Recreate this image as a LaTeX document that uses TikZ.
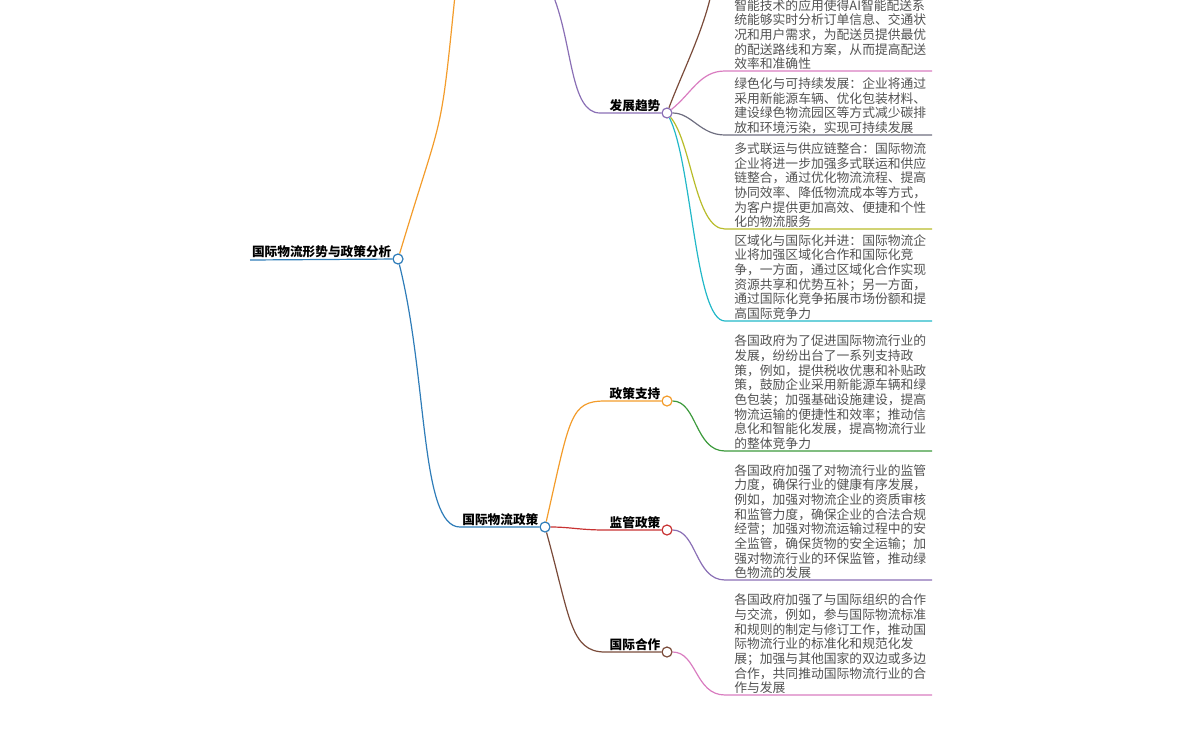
\documentclass[tikz,border=0pt]{standalone}
\usepackage{fontspec}
\setmainfont{Noto Sans CJK SC}
\begin{document}
\begin{tikzpicture}[x=0.75pt,y=-0.75pt,
  dot/.style={circle,draw=#1,fill=white,line width=0.9pt,minimum size=7.5pt,inner sep=0pt},
  ttl/.style={font=\fontsize{9.5}{11}\selectfont\bfseries,anchor=south east,inner sep=1pt},
  leaf/.style={font=\fontsize{9.6}{11}\selectfont,text=black!68,anchor=south west,inner sep=0pt,align=left},
  ln/.style={draw=#1,line width=0.9pt}]
\useasboundingbox (0,0) rectangle (1181,732);
\definecolor{cblue}{HTML}{2E7CB8}
\definecolor{corange}{HTML}{F39C2B}
\definecolor{cpurple}{HTML}{8A6FB5}
\definecolor{cbrown}{HTML}{7A4B3A}
\definecolor{cpink}{HTML}{D97CC0}
\definecolor{cgray}{HTML}{6E6E80}
\definecolor{colive}{HTML}{B8BC2A}
\definecolor{ccyan}{HTML}{22B8C8}
\definecolor{cgreen}{HTML}{3C9A3C}
\definecolor{cred}{HTML}{C83232}
% nodes
\node[dot=cblue] (R) at (398,259) {};
\coordinate (R0) at (250,260);
\node[ttl] at (393,259) {国际物流形势与政策分析};
\node[dot=cpurple] (T) at (667,113) {};
\coordinate (Ts) at (600,113);
\node[ttl] at (662,113) {发展趋势};
\coordinate (Tup) at (553,-5);
\coordinate (Rup) at (455,-5);
\node[dot=cblue] (P) at (545,527) {};
\coordinate (Ps) at (460,527);
\node[ttl] at (540,527) {国际物流政策};
\node[dot=corange] (A) at (667,401) {};
\coordinate (As) at (605,401);
\node[ttl] at (662,401) {政策支持};
\node[dot=cred] (B) at (667,530) {};
\coordinate (Bs) at (605,530);
\node[ttl] at (662,530) {监管政策};
\node[dot=cbrown] (C) at (667,652) {};
\coordinate (Cs) at (605,652);
\node[ttl] at (662,652) {国际合作};
% leaf coordinates
\foreach \n/\y in {L1/71,L2/135,L3/229,L4/321,M1/451,M2/580,M3/695}{
  \coordinate (\n s) at (725,\y); \coordinate (\n e) at (932,\y);}
\coordinate (L0s) at (712,-10);
% connectors
\draw[ln=cblue] (R0) -- (R);
\draw[ln=corange] (R) .. controls +(45,-150) and +(-15,150) .. (Rup);
\draw[ln=cblue] (R) .. controls +(30,120) and +(-40,0) .. (Ps) -- (P);
\draw[ln=cpurple] (Tup) .. controls +(20,50) and +(-30,0) .. (Ts) -- (T);
\draw[ln=cbrown] (T) .. controls +(15,-40) and +(-8,40) .. (L0s);
\draw[ln=cpink] (T) .. controls +(25,-20) and +(-25,0) .. (L1s) -- (L1e);
\draw[ln=cgray] (T) .. controls +(25,0) and +(-25,0) .. (L2s) -- (L2e);
\draw[ln=colive] (T) .. controls +(25,30) and +(-30,0) .. (L3s) -- (L3e);
\draw[ln=ccyan] (T) .. controls +(25,50) and +(-30,0) .. (L4s) -- (L4e);
\draw[ln=corange] (P) .. controls +(25,-110) and +(-35,0) .. (As) -- (A);
\draw[ln=cred] (P) .. controls +(25,0) and +(-25,0) .. (Bs) -- (B);
\draw[ln=cbrown] (P) .. controls +(25,90) and +(-35,0) .. (Cs) -- (C);
\draw[ln=cgreen] (A) .. controls +(30,0) and +(-30,0) .. (M1s) -- (M1e);
\draw[ln=cpurple] (B) .. controls +(30,0) and +(-30,0) .. (M2s) -- (M2e);
\draw[ln=cpink] (C) .. controls +(30,0) and +(-30,0) .. (M3s) -- (M3e);
% leaf texts
\node[leaf] at (734,70) {智能技术的应用使得AI智能配送系\\统能够实时分析订单信息、交通状\\况和用户需求，为配送员提供最优\\的配送路线和方案，从而提高配送\\效率和准确性};
\node[leaf] at (734,134) {绿色化与可持续发展：企业将通过\\采用新能源车辆、优化包装材料、\\建设绿色物流园区等方式减少碳排\\放和环境污染，实现可持续发展};
\node[leaf] at (734,228) {多式联运与供应链整合：国际物流\\企业将进一步加强多式联运和供应\\链整合，通过优化物流流程、提高\\协同效率、降低物流成本等方式，\\为客户提供更加高效、便捷和个性\\化的物流服务};
\node[leaf] at (734,320) {区域化与国际化并进：国际物流企\\业将加强区域化合作和国际化竞\\争，一方面，通过区域化合作实现\\资源共享和优势互补；另一方面，\\通过国际化竞争拓展市场份额和提\\高国际竞争力};
\node[leaf] at (734,450) {各国政府为了促进国际物流行业的\\发展，纷纷出台了一系列支持政\\策，例如，提供税收优惠和补贴政\\策，鼓励企业采用新能源车辆和绿\\色包装；加强基础设施建设，提高\\物流运输的便捷性和效率；推动信\\息化和智能化发展，提高物流行业\\的整体竞争力};
\node[leaf] at (734,579) {各国政府加强了对物流行业的监管\\力度，确保行业的健康有序发展，\\例如，加强对物流企业的资质审核\\和监管力度，确保企业的合法合规\\经营；加强对物流运输过程中的安\\全监管，确保货物的安全运输；加\\强对物流行业的环保监管，推动绿\\色物流的发展};
\node[leaf] at (734,694) {各国政府加强了与国际组织的合作\\与交流，例如，参与国际物流标准\\和规则的制定与修订工作，推动国\\际物流行业的标准化和规范化发\\展；加强与其他国家的双边或多边\\合作，共同推动国际物流行业的合\\作与发展};
\end{tikzpicture}
\end{document}
